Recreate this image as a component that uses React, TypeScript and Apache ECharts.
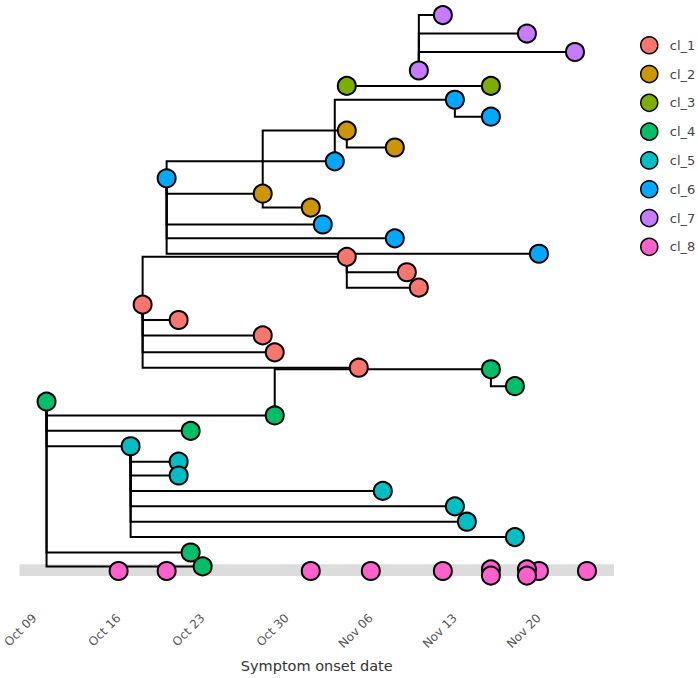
import React, { useEffect, useRef } from "react";
import * as echarts from "echarts";

const FONT = "'DejaVu Sans', Verdana, sans-serif";

const clusterNames = ["cl_1", "cl_2", "cl_3", "cl_4", "cl_5", "cl_6", "cl_7", "cl_8"];
const clusterColors = ["#F8766D", "#CD9600", "#7CAE00", "#00BE67", "#00BFC4", "#00A9FF", "#C77CFF", "#FF61CC"];

// cases: id, cluster, symptom onset, vertical layout position
const caseIds = [
  "c1b", "c1c", "c1d", "c1a", "c1e", "c1f", "c1g", "c1h",
  "c2a", "c2b", "c2c", "c2d",
  "c3a", "c3b",
  "c4a", "c4b", "c4c", "c4d", "c4e", "c4f", "c4g",
  "c5a", "c5b", "c5c", "c5d", "c5e", "c5f", "c5g",
  "c6a", "c6b", "c6c", "c6d", "c6e", "c6f", "c6g",
  "c7a", "c7b", "c7c", "c7d",
  "c8a", "c8b", "c8c", "c8d", "c8e", "c8f", "c8g", "c8h", "c8i", "c8j", "c8k",
];
const caseCluster = [
  "cl_1", "cl_1", "cl_1", "cl_1", "cl_1", "cl_1", "cl_1", "cl_1",
  "cl_2", "cl_2", "cl_2", "cl_2",
  "cl_3", "cl_3",
  "cl_4", "cl_4", "cl_4", "cl_4", "cl_4", "cl_4", "cl_4",
  "cl_5", "cl_5", "cl_5", "cl_5", "cl_5", "cl_5", "cl_5",
  "cl_6", "cl_6", "cl_6", "cl_6", "cl_6", "cl_6", "cl_6",
  "cl_7", "cl_7", "cl_7", "cl_7",
  "cl_8", "cl_8", "cl_8", "cl_8", "cl_8", "cl_8", "cl_8", "cl_8", "cl_8", "cl_8", "cl_8",
];
const caseOnset = [
  "2014-11-04", "2014-11-09", "2014-11-10", "2014-10-18", "2014-10-21", "2014-10-28", "2014-10-29", "2014-11-05",
  "2014-11-04", "2014-11-08", "2014-10-28", "2014-11-01",
  "2014-11-04", "2014-11-16",
  "2014-11-16", "2014-11-18", "2014-10-10", "2014-10-29", "2014-10-22", "2014-10-22", "2014-10-23",
  "2014-10-17", "2014-10-21", "2014-10-21", "2014-11-07", "2014-11-13", "2014-11-14", "2014-11-18",
  "2014-11-13", "2014-11-16", "2014-11-03", "2014-10-20", "2014-11-02", "2014-11-08", "2014-11-20",
  "2014-11-12", "2014-11-19", "2014-11-23", "2014-11-10",
  "2014-10-16", "2014-10-20", "2014-11-01", "2014-11-06", "2014-11-12", "2014-11-16", "2014-11-16", "2014-11-20", "2014-11-19", "2014-11-19", "2014-11-24",
];
const casePosition = [
  20.4, 19.4, 18.4, 17.3, 16.3, 15.3, 14.2, 13.2,
  28.6, 27.5, 24.5, 23.6,
  31.5, 31.5,
  13.1, 12.0, 11.0, 10.1, 9.1, 1.2, 0.3,
  8.1, 7.1, 6.2, 5.2, 4.2, 3.2, 2.2,
  30.6, 29.5, 26.6, 25.5, 22.5, 21.6, 20.6,
  36.1, 34.9, 33.7, 32.5,
  0, 0, 0, 0, 0, 0.1, -0.3, 0, 0.1, -0.3, 0,
];

// transmission links: infector -> infectee
const edgeFrom = [
  "c7d", "c7d", "c7d",
  "c3a",
  "c6c", "c6a",
  "c2c", "c2a", "c2c",
  "c6d", "c6d", "c6d", "c6d", "c6d",
  "c1a", "c1b", "c1b", "c1a", "c1a", "c1a", "c1a",
  "c4d", "c4a",
  "c4c", "c4c", "c4c", "c4c", "c4c",
  "c5a", "c5a", "c5a", "c5a", "c5a", "c5a",
];
const edgeTo = [
  "c7a", "c7b", "c7c",
  "c3b",
  "c6a", "c6b",
  "c2a", "c2b", "c2d",
  "c6c", "c2c", "c6e", "c6f", "c6g",
  "c1b", "c1c", "c1d", "c1e", "c1f", "c1g", "c1h",
  "c4a", "c4b",
  "c4d", "c4e", "c5a", "c4f", "c4g",
  "c5b", "c5c", "c5d", "c5e", "c5f", "c5g",
];

// unlinked-cases band limits (layout units)
const bandLimits = [-0.325, 0.435];

const axisStart = "2014-10-09";
const tickDates = ["2014-10-09", "2014-10-16", "2014-10-23", "2014-10-30", "2014-11-06", "2014-11-13", "2014-11-20"];
const xRange = [-1.25, 48.25];
const yRange = [-2.143, 37.078];

const MONTHS = ["Jan", "Feb", "Mar", "Apr", "May", "Jun", "Jul", "Aug", "Sep", "Oct", "Nov", "Dec"];
const DAY = 86400000;
const dayOf = (d: string) => (Date.parse(d + "T00:00:00Z") - Date.parse(axisStart + "T00:00:00Z")) / DAY;
const fmtDay = (v: number) => {
  const dt = new Date(Date.parse(axisStart + "T00:00:00Z") + Math.round(v) * DAY);
  return MONTHS[dt.getUTCMonth()] + " " + String(dt.getUTCDate()).padStart(2, "0");
};

export default function App() {
  const ref = useRef<HTMLDivElement>(null);
  useEffect(() => {
    if (!ref.current) return;
    const chart = echarts.init(ref.current, undefined, { renderer: "svg" });
    const idx: Record<string, number> = {};
    caseIds.forEach((id, i) => (idx[id] = i));
    const ticks = tickDates.map(dayOf);

    const edgeData = edgeFrom.map((f, i) => {
      const a = idx[f];
      const b = idx[edgeTo[i]];
      return [dayOf(caseOnset[a]), casePosition[a], dayOf(caseOnset[b]), casePosition[b]];
    });

    const scatterSeries = clusterNames.map((name, ci) => ({
      type: "scatter",
      name,
      z: 4,
      symbol: "circle",
      symbolSize: 18,
      itemStyle: { color: clusterColors[ci], borderColor: "#000", borderWidth: 2, opacity: 1 },
      emphasis: { disabled: true },
      data: caseIds
        .map((_, i) => i)
        .filter((i) => caseCluster[i] === name)
        .map((i) => [dayOf(caseOnset[i]), casePosition[i]]),
    }));

    chart.setOption({
      animation: false,
      grid: { left: 18, right: 84, top: 0, bottom: 74 },
      xAxis: {
        type: "value",
        min: xRange[0],
        max: xRange[1],
        axisLine: { show: false },
        splitLine: { show: false },
        axisTick: { show: true, customValues: ticks, length: 5, lineStyle: { color: "#aaa", width: 1 } },
        axisLabel: {
          customValues: ticks,
          rotate: 45,
          margin: 12,
          fontSize: 12,
          color: "#555",
          fontFamily: FONT,
          formatter: (v: number) => fmtDay(v),
        },
        name: "Symptom onset date",
        nameLocation: "middle",
        nameGap: 54,
        nameTextStyle: { fontSize: 14.5, color: "#333", fontFamily: FONT },
      },
      yAxis: { type: "value", min: yRange[0], max: yRange[1], show: false },
      legend: {
        orient: "vertical",
        left: 635,
        top: 31,
        itemWidth: 17,
        itemHeight: 17,
        itemGap: 10.3,
        icon: "circle",
        data: clusterNames,
        selectedMode: false,
        itemStyle: { borderColor: "#000", borderWidth: 1.5 },
        textStyle: { fontSize: 13, color: "#444", fontFamily: FONT, padding: [0, 0, 0, 7] },
      },
      series: [
        {
          type: "custom",
          name: "band",
          z: 1,
          silent: true,
          data: [[0, bandLimits[0], bandLimits[1]]],
          encode: { x: 0, y: [1, 2] },
          renderItem: (params: any, api: any) => {
            const top = api.coord([0, api.value(2)])[1];
            const bot = api.coord([0, api.value(1)])[1];
            const cs = params.coordSys;
            return {
              type: "rect",
              shape: { x: cs.x, y: top, width: cs.width, height: bot - top },
              style: { fill: "#dcdcdc" },
            };
          },
        },
        {
          type: "custom",
          name: "links",
          z: 2,
          silent: true,
          data: edgeData,
          encode: { x: [0, 2], y: [1, 3] },
          renderItem: (_params: any, api: any) => {
            const p = api.coord([api.value(0), api.value(1)]);
            const m = api.coord([api.value(0), api.value(3)]);
            const c = api.coord([api.value(2), api.value(3)]);
            return {
              type: "polyline",
              shape: { points: [p, m, c] },
              style: { stroke: "#000", lineWidth: 2, fill: null },
            };
          },
        },
        ...scatterSeries,
      ],
    });
    return () => chart.dispose();
  }, []);
  return <div ref={ref} style={{ position: "absolute", left: 0, top: 0, width: 698, height: 678 }} />;
}
